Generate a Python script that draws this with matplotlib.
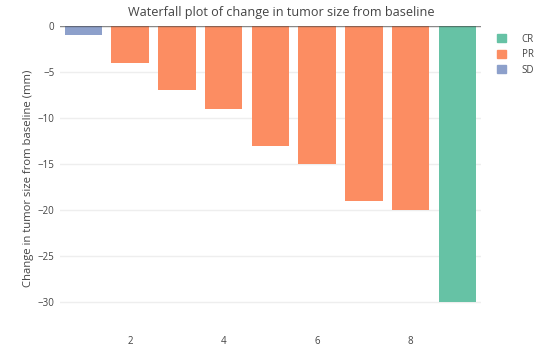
import matplotlib.pyplot as plt
from matplotlib.patches import Patch

plt.rcParams['font.family'] = ['Open Sans', 'DejaVu Sans']

patients = [1, 2, 3, 4, 5, 6, 7, 8, 9]
change = [-1, -4, -7, -9, -13, -15, -19, -20, -30]
response = ['SD', 'PR', 'PR', 'PR', 'PR', 'PR', 'PR', 'PR', 'CR']
colors = {'CR': '#66c2a5', 'PR': '#fc8d62', 'SD': '#8da0cb'}

text_color = '#444444'

fig = plt.figure(figsize=(5.49, 3.58), dpi=100)
ax = fig.add_axes([0.109, 0.117, 0.767, 0.81])

ax.bar(patients, change, width=0.8, color=[colors[r] for r in response], zorder=3)

ax.set_xlim(0.5, 9.5)
ax.set_ylim(-31.58, 0)
ax.set_xticks([2, 4, 6, 8])
ax.set_yticks([0, -5, -10, -15, -20, -25, -30])
ax.set_yticklabels(['0', '\u22125', '\u221210', '\u221215', '\u221220', '\u221225', '\u221230'])
ax.tick_params(length=0, labelsize=7, colors=text_color)
ax.tick_params(axis='x', pad=14)
ax.tick_params(axis='y', pad=4)
ax.grid(axis='y', color='#eeeeee', linewidth=1, zorder=0)
ax.axhline(0, color='#444444', linewidth=1, alpha=0.6, zorder=4)
for s in ax.spines.values():
    s.set_visible(False)

ax.set_ylabel('Change in tumor size from baseline (mm)', fontsize=8.1, color=text_color)
ax.yaxis.set_label_coords(-0.062, 0.475)
fig.text(0.512, 0.965, 'Waterfall plot of change in tumor size from baseline',
         ha='center', va='center', fontsize=9.1, color=text_color)

handles = [Patch(color=colors[k]) for k in ['CR', 'PR', 'SD']]
leg = fig.legend(handles, ['CR', 'PR', 'SD'], loc='upper left', bbox_to_anchor=(0.89, 0.93),
                 frameon=False, fontsize=7, handlelength=0.9, handleheight=0.9,
                 handletextpad=1.6, labelspacing=0.45)
for t in leg.get_texts():
    t.set_color(text_color)

fig.savefig('out.png', dpi=100)
